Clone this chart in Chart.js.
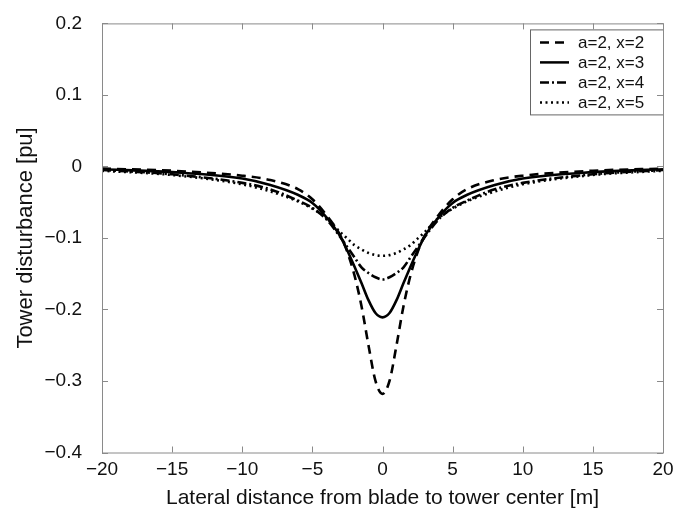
<!DOCTYPE html>
<html>
<head>
<meta charset="utf-8">
<script src="https://cdn.jsdelivr.net/npm/chart.js@4.4.1/dist/chart.umd.min.js"></script>
<style>
  html, body { margin: 0; padding: 0; background: #fff; }
  #wrap { position: relative; width: 700px; height: 518px; }
</style>
</head>
<body>
<div id="wrap"><canvas id="c"></canvas></div>
<script>
// lateral distance [m]
const distance = [-20, -15, -10, -8, -6, -5, -4, -3, -2.5, -2, -1.5, -1, -0.5, 0,
                  0.5, 1, 1.5, 2, 2.5, 3, 4, 5, 6, 8, 10, 15, 20];

// tower disturbance [pu]
const x2 = [-0.003, -0.006, -0.013, -0.019, -0.032, -0.046, -0.068, -0.097, -0.120, -0.152, -0.195, -0.250, -0.300, -0.318,
            -0.300, -0.250, -0.195, -0.152, -0.120, -0.097, -0.068, -0.046, -0.032, -0.019, -0.013, -0.006, -0.003];
const x3 = [-0.004, -0.008, -0.017, -0.026, -0.040, -0.051, -0.071, -0.098, -0.118, -0.140, -0.163, -0.187, -0.205, -0.211,
            -0.205, -0.187, -0.163, -0.140, -0.118, -0.098, -0.071, -0.051, -0.040, -0.026, -0.017, -0.008, -0.004];
const x4 = [-0.005, -0.011, -0.023, -0.032, -0.048, -0.058, -0.074, -0.099, -0.113, -0.127, -0.141, -0.149, -0.155, -0.158,
            -0.155, -0.149, -0.141, -0.127, -0.113, -0.099, -0.074, -0.058, -0.048, -0.032, -0.023, -0.011, -0.005];
const x5 = [-0.006, -0.012, -0.025, -0.035, -0.049, -0.059, -0.072, -0.092, -0.101, -0.110, -0.116, -0.121, -0.124, -0.125,
            -0.124, -0.121, -0.116, -0.110, -0.101, -0.092, -0.072, -0.059, -0.049, -0.035, -0.025, -0.012, -0.006];

const seriesNames = ["a=2, x=2", "a=2, x=3", "a=2, x=4", "a=2, x=5"];
const xTicks = [-20, -15, -10, -5, 0, 5, 10, 15, 20];
const yTicks = [0.2, 0.1, 0, -0.1, -0.2, -0.3, -0.4];

const dashes = [[9, 6], [], [9, 3, 2, 3], [2, 3.5]];
const font = "'Liberation Sans', Arial, sans-serif";

function pts(ys) {
  return distance.map((d, i) => ({ x: d, y: ys[i] }));
}
function fmt(v) {
  return String(Math.round(v * 10) / 10).replace("-", "\u2212");
}

// matlab-like frame with inward ticks and a boxed legend
const matlabAxes = {
  id: "matlabAxes",
  afterDraw(chart) {
    const ctx = chart.ctx;
    const a = chart.chartArea;
    const sx = chart.scales.x, sy = chart.scales.y;
    ctx.save();

    // legend
    const lw = 133, lh = 85;
    const lx = a.right - lw, ly = a.top + 6;
    ctx.fillStyle = "#fff";
    ctx.fillRect(lx, ly, lw, lh);
    ctx.strokeStyle = "#666";
    ctx.lineWidth = 1;
    ctx.strokeRect(lx + 0.5, ly + 0.5, lw, lh);
    ctx.font = "17px " + font;
    ctx.textBaseline = "middle";
    chart.data.datasets.forEach((ds, i) => {
      const yy = ly + 13 + i * 20;
      ctx.strokeStyle = "#000";
      ctx.lineWidth = 2.5;
      ctx.setLineDash(dashes[i]);
      ctx.beginPath();
      ctx.moveTo(lx + 10, yy); ctx.lineTo(lx + 39, yy);
      ctx.stroke();
      ctx.setLineDash([]);
      ctx.fillStyle = "#111";
      ctx.fillText(ds.label, lx + 48, yy + 1);
    });

    ctx.strokeStyle = "#8a8a8a";
    ctx.lineWidth = 1;
    ctx.strokeRect(a.left + 0.5, a.top + 0.5, a.right - a.left, a.bottom - a.top);
    ctx.beginPath();
    xTicks.forEach(t => {
      const px = Math.round(sx.getPixelForValue(t)) + 0.5;
      ctx.moveTo(px, a.bottom); ctx.lineTo(px, a.bottom - 6);
      ctx.moveTo(px, a.top); ctx.lineTo(px, a.top + 6);
    });
    yTicks.forEach(t => {
      const py = Math.round(sy.getPixelForValue(t)) + 0.5;
      ctx.moveTo(a.left, py); ctx.lineTo(a.left + 6, py);
      ctx.moveTo(a.right, py); ctx.lineTo(a.right - 6, py);
    });
    ctx.stroke();
    ctx.restore();
  }
};

const datasets = [x2, x3, x4, x5].map((ys, i) => ({
  label: seriesNames[i],
  data: pts(ys),
  borderColor: "#000",
  borderWidth: 2.6,
  borderDash: dashes[i],
  pointRadius: 0,
  fill: false,
  cubicInterpolationMode: "monotone"
}));

new Chart(document.getElementById("c"), {
  type: "line",
  data: { datasets },
  options: {
    responsive: true,
    maintainAspectRatio: false,
    animation: false,
    layout: { padding: { left: 0, right: 37, top: 10, bottom: 0 } },
    plugins: { legend: { display: false }, tooltip: { enabled: false } },
    scales: {
      x: {
        type: "linear",
        min: -20, max: 20,
        grid: { display: false },
        border: { display: false },
        afterBuildTicks: s => { s.ticks = xTicks.map(v => ({ value: v })); },
        afterFit: s => { s.height = 65.5; },
        ticks: {
          color: "#111", padding: -2, maxRotation: 0,
          font: { family: font, size: 19 },
          callback: v => fmt(v)
        },
        title: {
          display: true, text: "Lateral distance from blade to tower center [m]",
          color: "#111", font: { family: font, size: 21 }, padding: { top: 4, bottom: 7 }
        }
      },
      y: {
        type: "linear",
        min: -0.4, max: 0.2,
        grid: { display: false },
        border: { display: false },
        afterBuildTicks: s => { s.ticks = yTicks.map(v => ({ value: v })); },
        afterFit: s => { s.width = 102; },
        ticks: {
          color: "#111", padding: 12,
          font: { family: font, size: 19 },
          callback: v => fmt(v)
        },
        title: {
          display: true, text: "Tower disturbance [pu]",
          color: "#111", font: { family: font, size: 22 }, padding: { top: 13, bottom: 4 }
        }
      }
    }
  },
  plugins: [matlabAxes]
});
</script>
</body>
</html>
